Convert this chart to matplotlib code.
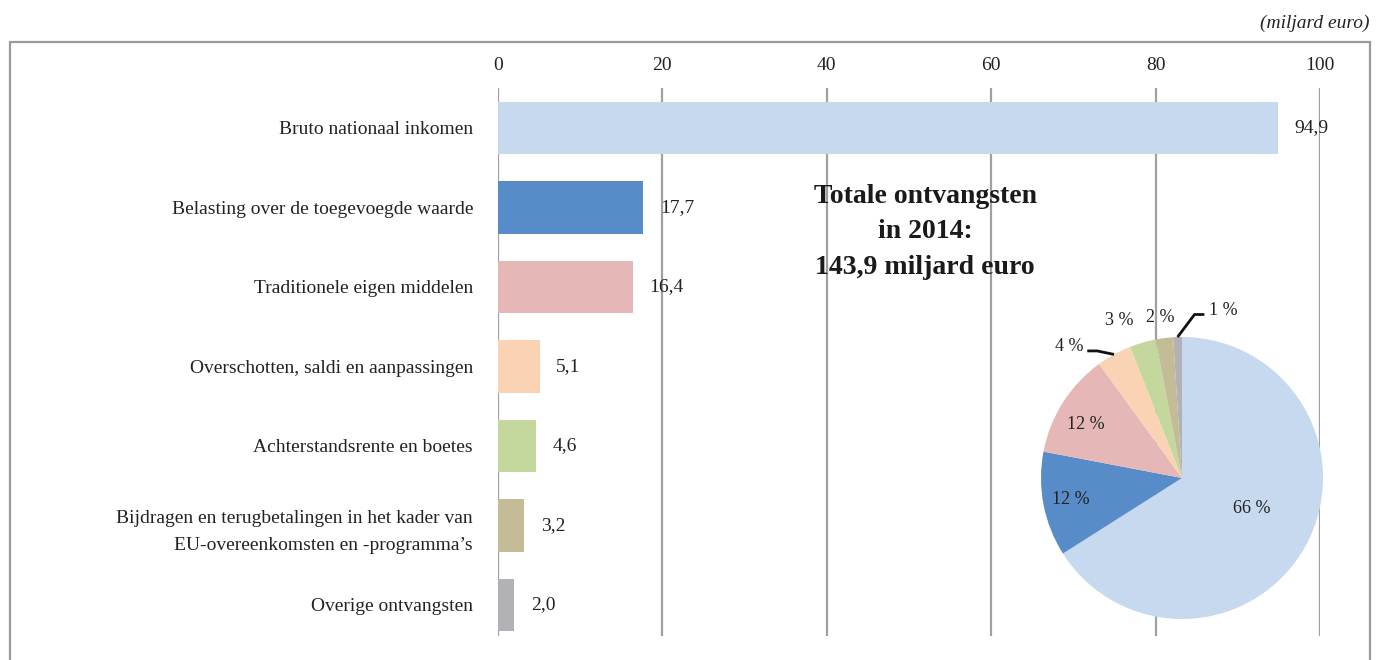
import numpy as np
import matplotlib.pyplot as plt
from matplotlib.patches import Rectangle

plt.rcParams['font.family'] = ['Liberation Serif', 'DejaVu Serif']

# EU revenue 2014, billions of euro
categories = [
    "Bruto nationaal inkomen",
    "Belasting over de toegevoegde waarde",
    "Traditionele eigen middelen",
    "Overschotten, saldi en aanpassingen",
    "Achterstandsrente en boetes",
    "Bijdragen en terugbetalingen in het kader van\nEU-overeenkomsten en -programma’s",
    "Overige ontvangsten",
]
values = [94.9, 17.7, 16.4, 5.1, 4.6, 3.2, 2.0]
shares = [66, 12, 12, 4, 3, 2, 1]  # percent of total, as published
colors = ["#C6D9EE", "#588CC9", "#E5B8B7", "#FAD3B4", "#C4D79C", "#C4BC97", "#B1B1B6"]
x_ticks = [0, 20, 40, 60, 80, 100]

fig = plt.figure(figsize=(13.88, 6.6), dpi=100)

# outer frame (open at the bottom edge of the image)
fig.patches.append(Rectangle((10 / 1388, -0.1), 1360 / 1388, 1.1 - 42 / 660,
                             transform=fig.transFigure, fill=False,
                             edgecolor="#9a9a9a", linewidth=1.6))
fig.text(1370 / 1388, 1 - 23 / 660, "(miljard euro)", ha="right", va="center",
         fontsize=14, style="italic", color="#222222")

# bar chart
ax = fig.add_axes([498 / 1388, 1 - 636 / 660, 822 / 1388, 548 / 660])
y = np.arange(len(values))
ax.barh(y, values, height=0.66, color=colors, zorder=2)
ax.set_xlim(0, 100)
ax.set_ylim(6.39, -0.503)
ax.set_xticks(x_ticks)
ax.xaxis.tick_top()
ax.tick_params(axis="x", length=0, pad=10, labelsize=14, colors="#222222")
ax.set_yticks(y)
ax.set_yticklabels(categories, fontsize=14, color="#222222", multialignment="right")
for t in ax.get_yticklabels():
    t.set_linespacing(1.7)
ax.tick_params(axis="y", length=0, pad=18)
ax.grid(axis="x", color="#a0a0a0", linewidth=1.6, zorder=1)
for s in ax.spines.values():
    s.set_visible(False)
for yi, v in zip(y, values):
    ax.text(v + 2.0, yi, f"{v:.1f}".replace(".", ","), va="center", ha="left",
            fontsize=14, color="#222222")

fig.text(925 / 1388, 1 - 232 / 660, "Totale ontvangsten\nin 2014:\n143,9 miljard euro",
         ha="center", va="center", fontsize=20, fontweight="bold",
         linespacing=1.55, color="#1a1a1a")

# pie chart of the shares
pax = fig.add_axes([(1182 - 141) / 1388, (660 - 478 - 141) / 660, 282 / 1388, 282 / 660])
wedges, _ = pax.pie(shares, colors=colors, startangle=90, counterclock=False,
                    radius=1.0, wedgeprops=dict(linewidth=0))
pax.set_xlim(-1, 1)
pax.set_ylim(-1, 1)
pax.set_aspect("equal")

pct = [f"{s} %" for s in shares]
# (radius, angle tweak in degrees) for labels placed without a leader line
label_pos = {0: (0.54, 5), 1: (0.8, 0), 2: (0.78, 3), 4: (1.2, 5.5), 5: (1.15, 0.6)}
for idx, (r, dt) in label_pos.items():
    w = wedges[idx]
    a = np.deg2rad((w.theta1 + w.theta2) / 2 + dt)
    pax.text(r * np.cos(a), r * np.sin(a), pct[idx], ha="center", va="center",
             fontsize=13, color="#222222", clip_on=False)

# leader lines for the 4 % and 1 % slices
for idx, (dx, dy, hx, side) in {3: (-0.12, 0.025, -0.07, "right"),
                                 6: (0.12, 0.16, 0.07, "left")}.items():
    w = wedges[idx]
    a = np.deg2rad((w.theta1 + w.theta2) / 2)
    ex, ey = np.cos(a), np.sin(a)
    bx, by = ex + dx, ey + dy
    cx = bx + hx
    pax.plot([ex, bx, cx], [ey, by, by], color="#111111", linewidth=2,
             clip_on=False, solid_capstyle="butt")
    off = 0.035 if side == "left" else -0.03
    pax.text(cx + off, by + 0.03, pct[idx], ha=side, va="center",
             fontsize=13, color="#222222", clip_on=False)

fig.savefig("out.png", dpi=100)
